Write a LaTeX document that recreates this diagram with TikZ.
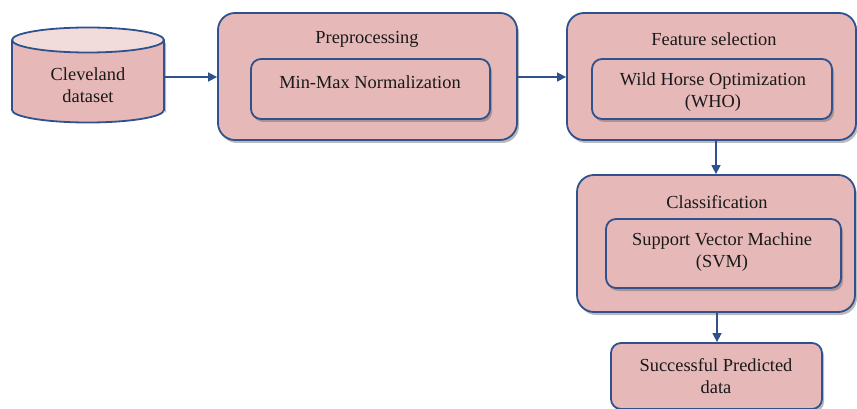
\documentclass[tikz,border=0pt]{standalone}
\usepackage{fontspec}
\setmainfont{Liberation Serif}
\usetikzlibrary{shadows,arrows.meta}
\definecolor{bord}{HTML}{2F528F}
\definecolor{boxfill}{HTML}{E6B9B8}
\definecolor{topfill}{HTML}{F2DCDB}
\definecolor{arrcol}{HTML}{2F528F}
\tikzset{
  outerbox/.style={draw=bord, line width=1.8pt, fill=boxfill, rounded corners=17pt,
    drop shadow={shadow xshift=2pt, shadow yshift=-3pt, fill=black!60, opacity=0.45}},
  innerbox/.style={draw=bord, line width=1.8pt, fill=boxfill, rounded corners=10pt,
    drop shadow={shadow xshift=2pt, shadow yshift=-3pt, fill=black!60, opacity=0.45}},
  lbl/.style={font=\fontsize{18.4}{22}\selectfont, text=black!90, align=center, inner sep=0pt},
  arr/.style={draw=arrcol, line width=1.5pt, -{Triangle[length=9pt,width=9pt]}}
}
\begin{document}
\begin{tikzpicture}[x=1pt,y=-1pt]
\useasboundingbox (0,0) rectangle (857,409);
% cylinder
\fill[black!60, opacity=0.45, shift={(2,3)}] (12,40) -- (12,110) arc[start angle=180,end angle=360,x radius=76,y radius=12.5] -- (164,40) -- cycle;
\draw[draw=bord, line width=1.8pt, fill=boxfill] (12,40) -- (12,110) arc[start angle=180,end angle=360,x radius=76,y radius=-12.5] -- (164,40);
\draw[draw=bord, line width=1.8pt, fill=topfill] (88,40) ellipse[x radius=76, y radius=12.5];
\node[minimum width=152pt, minimum height=74pt, inner sep=0pt] (cyl) at (88,77) {};
\node[lbl] (cyltxt) at (88,85) {Cleveland\\dataset};
% preprocessing
\node[outerbox, minimum width=299pt, minimum height=127pt] (pre) at (367.5,76.5) {};
\node[lbl] (pretitle) at (367,39) {Preprocessing};
\node[innerbox, minimum width=239pt, minimum height=60pt] (prein) at (370.5,89) {};
\node[lbl] (preintxt) at (370,82) {Min-Max Normalization};
% feature selection
\node[outerbox, minimum width=289pt, minimum height=127pt] (feat) at (711.5,76.5) {};
\node[lbl] (feattitle) at (714,39) {Feature selection};
\node[innerbox, minimum width=240pt, minimum height=60pt] (featin) at (712,89) {};
\node[lbl] (featintxt) at (713,92.5) {Wild Horse Optimization\\(WHO)};
% classification
\node[outerbox, minimum width=278pt, minimum height=137pt] (cls) at (716,243.5) {};
\node[lbl] (clstitle) at (717,202) {Classification};
\node[innerbox, minimum width=235pt, minimum height=69pt] (clsin) at (723.5,253.5) {};
\node[lbl] (clsintxt) at (722,252.5) {Support Vector Machine\\(SVM)};
% output
\node[innerbox, minimum width=211pt, minimum height=66pt] (succ) at (716.5,376) {};
\node[lbl] (succtxt) at (716,376) {Successful Predicted\\data};
% arrows
\draw[arr] (cyl.east) -- (pre.west |- cyl.east);
\draw[arr] (pre.east |- 0,77) -- (feat.west |- 0,77);
\draw[arr] (feat.south -| 716,0) -- (cls.north -| 716,0);
\draw[arr] (cls.south -| 717,0) -- (succ.north -| 717,0);
\end{tikzpicture}
\end{document}
